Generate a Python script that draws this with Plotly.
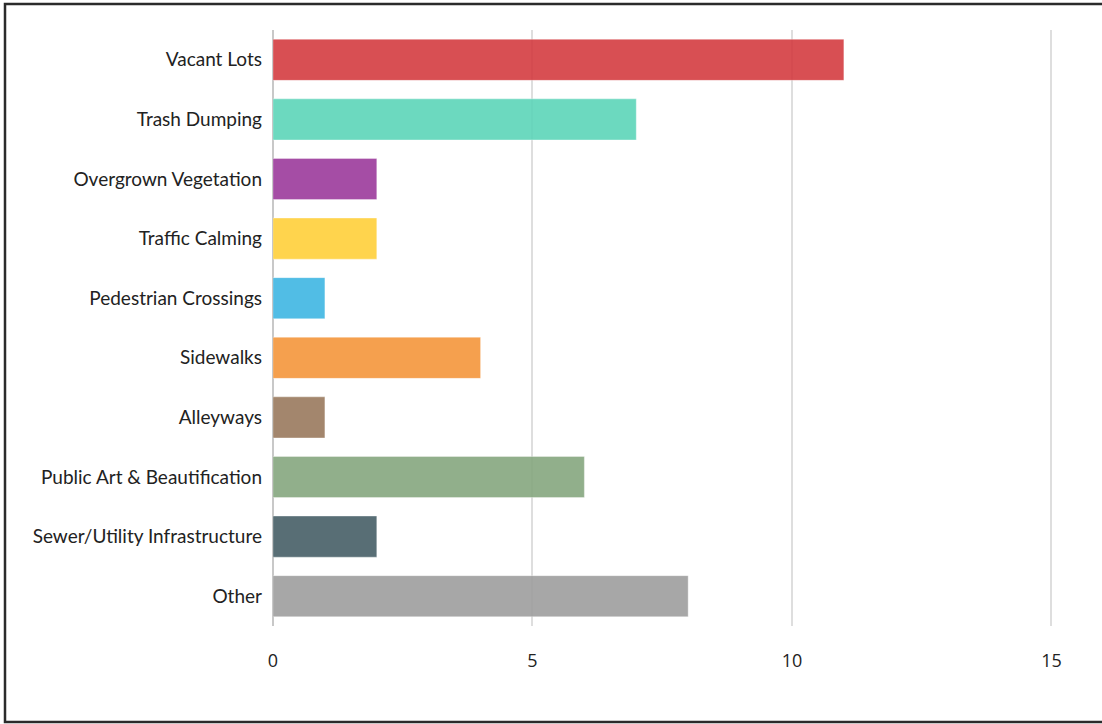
import plotly.graph_objects as go

categories = ["Vacant Lots", "Trash Dumping", "Overgrown Vegetation", "Traffic Calming",
              "Pedestrian Crossings", "Sidewalks", "Alleyways", "Public Art & Beautification",
              "Sewer/Utility Infrastructure", "Other"]
values = [11, 7, 2, 2, 1, 4, 1, 6, 2, 8]
colors = ["#d43c41", "#5dd5b9", "#9c3a9c", "#ffd03a", "#3fb6e3", "#f4963b",
          "#9a7a5e", "#86a77f", "#465f67", "#9e9e9e"]
x_ticks = [0, 5, 10, 15]

W, H = 1102, 724
ml, mr, mt, mb = 273, 49, 30, 98

fig = go.Figure(go.Bar(
    y=categories, x=values, orientation="h",
    marker=dict(color=colors, opacity=0.9, line=dict(color="rgba(255,255,255,0.35)", width=1)),
    width=0.69,
))

pw = W - ml - mr
ph = H - mt - mb
def px(x):
    return (x - ml) / pw
def py(y):
    return 1 - (y - mt) / ph

fig.add_shape(type="rect", xref="paper", yref="paper",
              x0=px(5), x1=px(1110), y0=py(4), y1=py(722),
              line=dict(color="#2b2b2b", width=2.5), layer="above")

fig.update_layout(
    width=W, height=H,
    margin=dict(l=ml, r=mr, t=mt, b=mb),
    plot_bgcolor="white", paper_bgcolor="white",
    showlegend=False,
    font=dict(family="Lato", color="#222"),
    bargap=0.31,
)
fig.update_yaxes(autorange="reversed", tickfont=dict(size=19, family="Lato", color="#222"),
                 ticks="", ticklabelstandoff=10, showgrid=False, showline=False)
fig.update_xaxes(range=[0, 15.03], tickvals=x_ticks, showgrid=True, gridcolor="#dedede", gridwidth=1.5,
                 zeroline=True, zerolinecolor="#c8c8c8", zerolinewidth=1.5,
                 tickfont=dict(size=18, family="Open Sans", color="#222"), ticks="",
                 ticklabelstandoff=22)

fig.write_html("out.html", config={"displayModeBar": False},
               post_script="document.body.style.margin='0px';document.body.style.overflow='hidden';")
